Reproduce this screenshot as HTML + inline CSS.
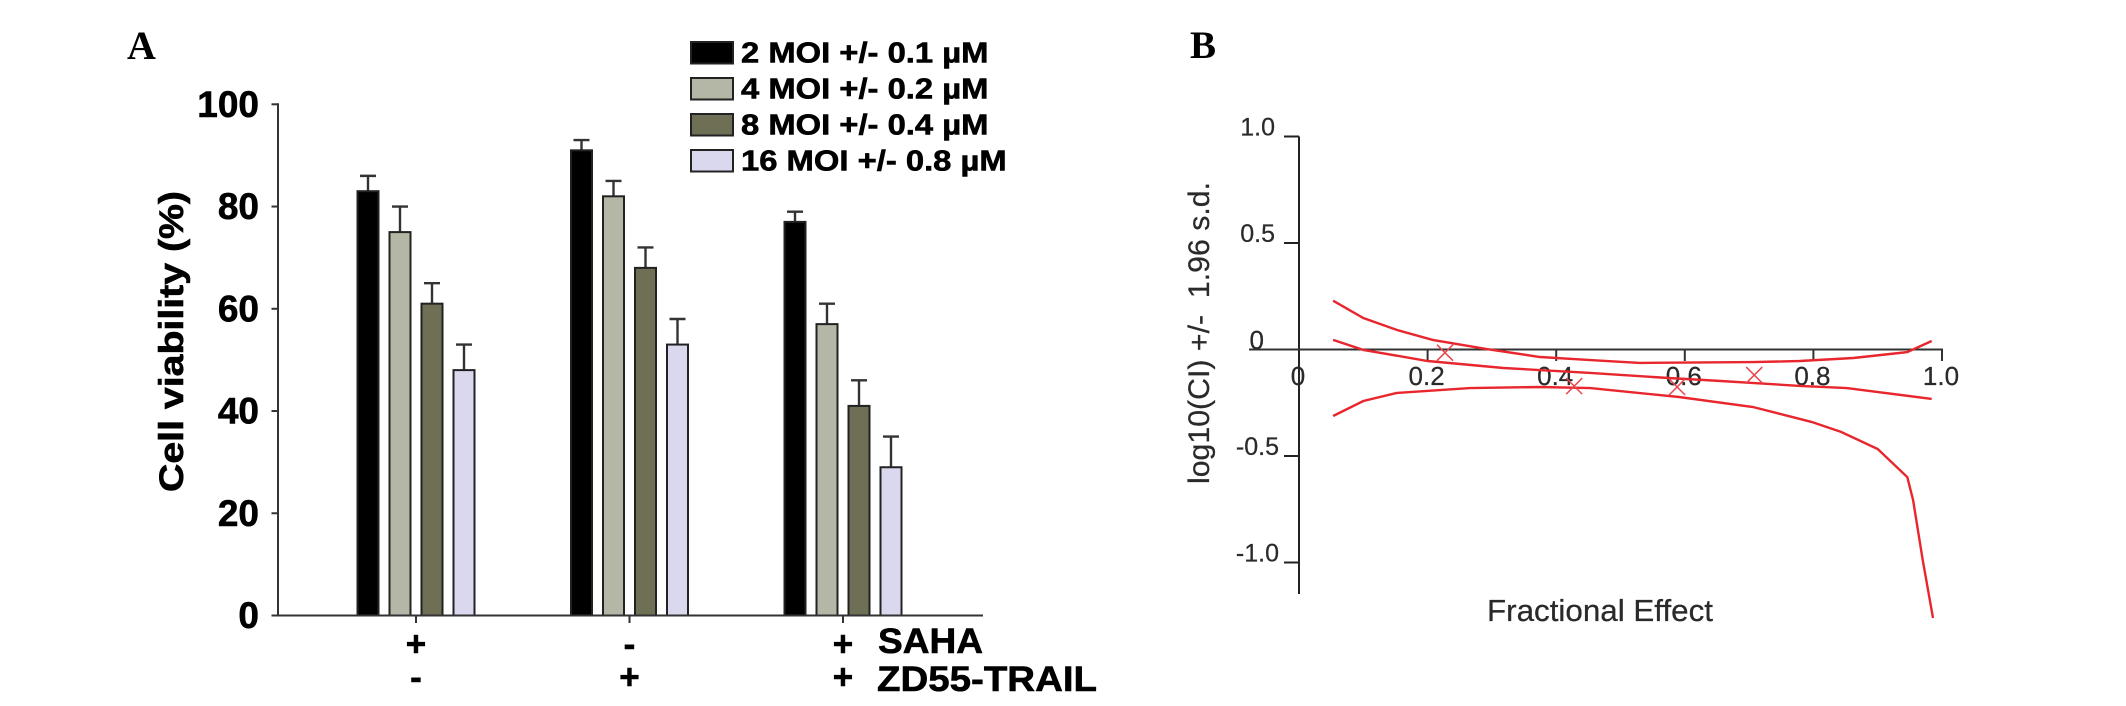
<!DOCTYPE html>
<html lang="en">
<head>
<meta charset="utf-8">
<title>Cell viability and combination index</title>
<style>
html,body{margin:0;padding:0;background:#fff;}
svg{display:block;}
text{font-family:"Liberation Sans",sans-serif;}
.bold{font-weight:bold;fill:#000;stroke:#000;stroke-width:.6px;}
.thin{fill:#2a2a2a;stroke:#2a2a2a;stroke-width:.25px;}
.panel{font-family:"Liberation Serif",serif;font-weight:bold;fill:#000;}
</style>
</head>
<body>
<svg id="figure" width="2126" height="706" viewBox="0 0 2126 706" xmlns="http://www.w3.org/2000/svg">
  <rect width="2126" height="706" fill="#fff"/>
  <text class="panel" x="127" y="59" font-size="40">A</text>
  <text class="panel" x="1190" y="58" font-size="39">B</text>
  <g id="chartA"></g>
  <text class="bold" transform="translate(183,492) rotate(-90)" font-size="34" textLength="301" lengthAdjust="spacingAndGlyphs">Cell viability (%)</text>
  <text class="bold" x="878" y="653" font-size="35" textLength="105" lengthAdjust="spacingAndGlyphs">SAHA</text>
  <text class="bold" x="877" y="691" font-size="35" textLength="220" lengthAdjust="spacingAndGlyphs">ZD55-TRAIL</text>
  <g id="legend"></g>
  <g id="chartB"></g>
  <text class="thin" transform="translate(1209,484) rotate(-90)" font-size="30" textLength="302" lengthAdjust="spacingAndGlyphs" xml:space="preserve">log10(CI) +/-  1.96 s.d.</text>
  <text class="thin" x="1487" y="621" font-size="31" textLength="226" lengthAdjust="spacingAndGlyphs">Fractional Effect</text>
</svg>
<script>
// ---- Chart A data ----
const groups = ['group-1', 'group-2', 'group-3'];
const seriesNames = ['2 MOI +/- 0.1 µM', '4 MOI +/- 0.2 µM', '8 MOI +/- 0.4 µM', '16 MOI +/- 0.8 µM'];
const seriesColors = ['#000000', '#b4b6a6', '#6e6f55', '#d9d8ee'];
const viability2moi = [83, 91, 77];
const viability4moi = [75, 82, 57];
const viability8moi = [61, 68, 41];
const viability16moi = [48, 53, 29];
const errorTop2moi = [86, 93, 79];
const errorTop4moi = [80, 85, 61];
const errorTop8moi = [65, 72, 46];
const errorTop16moi = [53, 58, 35];
const viabilityTicks = [0, 20, 40, 60, 80, 100];
const sahaSigns = ['+', '-', '+'];
const trailSigns = ['-', '+', '+'];

// ---- Chart B data ----
const upperFa = [0.053, 0.1, 0.152, 0.208, 0.292, 0.375, 0.453, 0.53, 0.706, 0.779, 0.862, 0.946, 0.984];
const upperCi = [0.229, 0.148, 0.092, 0.045, 0.002, -0.035, -0.05, -0.063, -0.059, -0.054, -0.04, -0.012, 0.04];
const middleFa = [0.053, 0.1, 0.2, 0.318, 0.453, 0.574, 0.656, 0.779, 0.852, 0.984];
const middleCi = [0.045, -0.002, -0.054, -0.087, -0.11, -0.134, -0.148, -0.171, -0.181, -0.232];
const lowerFa = [0.053, 0.1, 0.152, 0.266, 0.375, 0.453, 0.591, 0.706, 0.797, 0.843, 0.9, 0.946, 0.955, 0.97, 0.986];
const lowerCi = [-0.312, -0.242, -0.204, -0.181, -0.176, -0.181, -0.223, -0.27, -0.34, -0.387, -0.467, -0.599, -0.707, -0.988, -1.26];
const markerFa = [0.227, 0.428, 0.588, 0.708];
const markerCi = [-0.015, -0.172, -0.176, -0.12];
const ciTicks = [1.0, 0.5, -0.5, -1.0];
const ciTickLabels = ['1.0', '0.5', '-0.5', '-1.0'];
const faTicks = [0.2, 0.4, 0.6, 0.8, 1.0];
const faTickLabels = ['0.2', '0.4', '0.6', '0.8', '1.0'];

const NS = 'http://www.w3.org/2000/svg';
function mk(parent, tag, attrs, txt) {
  const el = document.createElementNS(NS, tag);
  for (const k in attrs) el.setAttribute(k, attrs[k]);
  if (txt !== undefined) el.textContent = txt;
  parent.appendChild(el);
  return el;
}

// ---- Chart A ----
const gA = document.getElementById('chartA');
const yA = v => 615.5 - v * 5.112;
const xGroup = i => 416 + i * 213.5;
const xBar = (g, s) => xGroup(g) + (s - 1.5) * 32;
const allValues = [viability2moi, viability4moi, viability8moi, viability16moi];
const allErrors = [errorTop2moi, errorTop4moi, errorTop8moi, errorTop16moi];

groups.forEach((name, g) => {
  allValues.forEach((vals, s) => {
    const cx = xBar(g, s);
    const err = mk(gA, 'path', {d: 'M' + cx + ' ' + yA(vals[g]) + 'V' + yA(allErrors[s][g]) + 'M' + (cx - 8) + ' ' + yA(allErrors[s][g]) + 'H' + (cx + 8), stroke: '#333', 'stroke-width': 2.4, fill: 'none'});
    
    
    const bar = mk(gA, 'rect', {x: cx - 10.5, y: yA(vals[g]), width: 21, height: yA(0) - yA(vals[g]), fill: seriesColors[s], stroke: '#222', 'stroke-width': 2});
    
    
  });
  const tick = mk(gA, 'line', {x1: xGroup(g), x2: xGroup(g), y1: 615.5, y2: 623, stroke: '#333', 'stroke-width': 2});
  
  
  const s1 = mk(gA, 'text', {x: xGroup(g), y: 656, 'font-size': 35, 'text-anchor': 'middle', class: 'bold'}, sahaSigns[g]);
  
  
  const s2 = mk(gA, 'text', {x: xGroup(g), y: 689, 'font-size': 35, 'text-anchor': 'middle', class: 'bold'}, trailSigns[g]);
  
  
});

const axisAY = mk(gA, 'line', {x1: 278, x2: 278, y1: yA(100) - 1, y2: yA(0) + 1, stroke: '#333', 'stroke-width': 2});


const axisAX = mk(gA, 'line', {x1: 277, x2: 983, y1: yA(0), y2: yA(0), stroke: '#333', 'stroke-width': 2});



viabilityTicks.forEach(v => {
  const t = mk(gA, 'line', {x1: 271.5, x2: 278, y1: yA(v), y2: yA(v), stroke: '#333', 'stroke-width': 2});
  
  
  const l = mk(gA, 'text', {x: 259, y: yA(v) + 12.5, 'font-size': 37, 'text-anchor': 'end', class: 'bold'}, String(v));
  
  
});

// ---- Legend ----
const gL = document.getElementById('legend');
seriesNames.forEach((name, i) => {
  const sw = mk(gL, 'rect', {x: 691, y: 42 + i * 36, width: 42, height: 21.5, fill: seriesColors[i], stroke: '#222', 'stroke-width': 2});
  
  
  const tx = mk(gL, 'text', {x: 741, y: 62.5 + i * 36, 'font-size': 29, class: 'bold'}, name);
  
  
  // reference legend type is set about 13% wider than the font's natural width
  tx.setAttribute('textLength', (tx.getComputedTextLength() * 1.13).toFixed(1));
  tx.setAttribute('lengthAdjust', 'spacingAndGlyphs');
});

// ---- Chart B ----
const gB = document.getElementById('chartB');
const xB = f => 1299 + f * 643;
const yB = c => 349.5 - c * 213;

const axisBY = mk(gB, 'line', {x1: xB(0), x2: xB(0), y1: yB(1), y2: 594, stroke: '#222', 'stroke-width': 2});


const axisBX = mk(gB, 'line', {x1: 1249, x2: xB(1) + 1, y1: yB(0), y2: yB(0), stroke: '#333', 'stroke-width': 2});



ciTicks.forEach((v, i) => {
  const t = mk(gB, 'line', {x1: 1284, x2: xB(0), y1: yB(v), y2: yB(v), stroke: '#222', 'stroke-width': 2});
  
  
  const l = mk(gB, 'text', {x: v < 0 ? 1279 : 1275, y: yB(v) - 1, 'font-size': 25, 'text-anchor': 'end', class: 'thin'}, ciTickLabels[i]);
  
  
});
const zeroY = mk(gB, 'text', {x: 1264, y: 349, 'font-size': 26, 'text-anchor': 'end', class: 'thin'}, '0');


const zeroX = mk(gB, 'text', {x: xB(0) - 1, y: 385, 'font-size': 26, 'text-anchor': 'middle', class: 'thin'}, '0');



faTicks.forEach((v, i) => {
  const t = mk(gB, 'line', {x1: xB(v), x2: xB(v), y1: yB(0), y2: 361, stroke: '#333', 'stroke-width': 2});
  
  
  const l = mk(gB, 'text', {x: xB(v) - 1, y: 385, 'font-size': 26, 'text-anchor': 'middle', class: 'thin'}, faTickLabels[i]);
  
  
});

function curve(fa, ci) {
  return fa.map((f, i) => xB(f).toFixed(1) + ',' + yB(ci[i]).toFixed(1)).join(' ');
}
const upperLine = mk(gB, 'polyline', {points: curve(upperFa, upperCi), fill: 'none', stroke: '#e8262e', 'stroke-width': 2.4});


const middleLine = mk(gB, 'polyline', {points: curve(middleFa, middleCi), fill: 'none', stroke: '#e8262e', 'stroke-width': 2.4});


const lowerLine = mk(gB, 'polyline', {points: curve(lowerFa, lowerCi), fill: 'none', stroke: '#e8262e', 'stroke-width': 2.4});



markerFa.forEach((f, i) => {
  const cx = xB(f), cy = yB(markerCi[i]), r = 8;
  const m = mk(gB, 'path', {d: 'M' + (cx - r) + ' ' + (cy - r) + 'L' + (cx + r) + ' ' + (cy + r) + 'M' + (cx - r) + ' ' + (cy + r) + 'L' + (cx + r) + ' ' + (cy - r), fill: 'none', stroke: '#e8464c', 'stroke-width': 1.5});
  
  
});
</script>
</body>
</html>
